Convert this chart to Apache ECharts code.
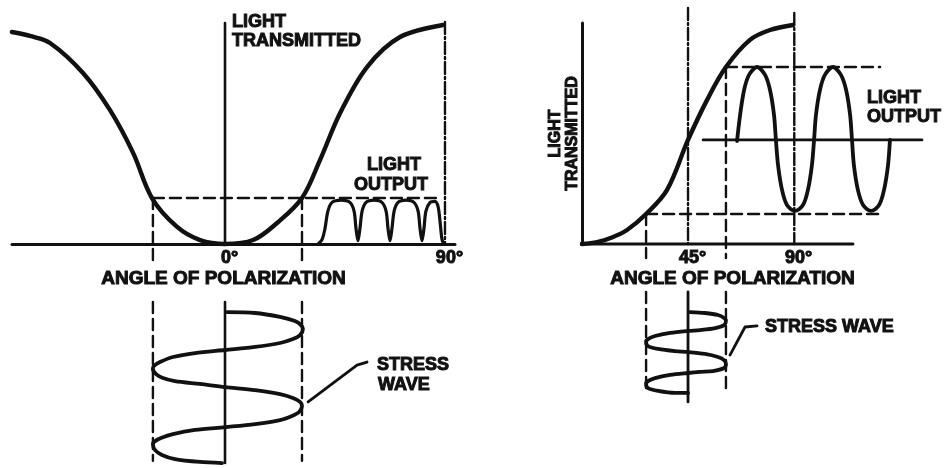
<!DOCTYPE html>
<html><head><meta charset="utf-8">
<script src="https://cdn.jsdelivr.net/npm/echarts@6/dist/echarts.min.js"></script>
<style>html,body{margin:0;padding:0;background:#fff}#c{width:945px;height:468px}</style>
</head><body><div id="c"></div>
<script>
// ---------- DATA (x: angle of polarization in degrees, y: light transmitted, 0..1) ----------
const leftAngleTicks = [0, 90];
const rightAngleTicks = [45, 90];
const axisTitle = 'ANGLE OF POLARIZATION';
const yTitle = 'LIGHT\nTRANSMITTED';

// left panel: transmission curve with the working point at 0 deg
const leftCurve = [[-87.2,0.968],[-79.8,0.950],[-71.6,0.918],[-58.1,0.781],[-47.1,0.612],[-37.6,0.416],[-29.9,0.210],[-19.6,0.078],[-10.2,0.018],[0,0],[11.5,0.018],[21.3,0.096],[31.5,0.210],[38.9,0.384],[47.1,0.598],[58.1,0.808],[71.6,0.945],[89.2,1.0]];
const leftOutput = [[38.1,0],[39.7,0.02],[40.9,0.07],[42.1,0.15],[43.8,0.19],[47.5,0.2],[51.1,0.19],[52.8,0.15],[53.6,0.07],[54.4,0.015],[55.2,0.07],[56.1,0.15],[57.7,0.19],[61.0,0.2],[64.2,0.19],[65.9,0.15],[66.7,0.07],[67.5,0.015],[68.3,0.07],[69.2,0.15],[70.8,0.19],[74.1,0.2],[77.3,0.19],[79.0,0.15],[79.8,0.07],[80.6,0.015],[81.4,0.07],[82.2,0.15],[83.9,0.19],[85.9,0.195],[87.2,0.17],[88.0,0.1],[88.8,0.02],[89.6,0]];
const leftStress = [[0.8,-0.311],[12.3,-0.315],[22.5,-0.333],[28.6,-0.352],[31.1,-0.370],[31.9,-0.388],[30.7,-0.416],[27.8,-0.434],[22.5,-0.452],[12.3,-0.470],[0,-0.484],[-12.3,-0.498],[-21.3,-0.516],[-26.6,-0.539],[-29.1,-0.557],[-29.5,-0.571],[-28.2,-0.594],[-25.4,-0.612],[-20.5,-0.626],[-10.2,-0.639],[0,-0.653],[12.3,-0.667],[22.5,-0.685],[27.8,-0.703],[30.7,-0.721],[31.5,-0.740],[30.3,-0.767],[27.4,-0.785],[22.5,-0.804],[12.3,-0.822],[0,-0.836],[-12.3,-0.849],[-21.3,-0.868],[-26.2,-0.886],[-28.6,-0.900],[-29.5,-0.913],[-28.6,-0.941],[-25.8,-0.963],[-20.5,-0.982],[-10.2,-0.995],[-1.2,-1.0]];
const leftLeader = [[34.0,-0.721],[54.0,-0.553],[58.1,-0.539]];
const leftSolid = [[[0,1.009],[0,0]],[[0,-0.265],[0,-1.0]]];
const leftDashed = [[[-29.5,0.21],[-29.5,-0.096]],[[-29.5,-0.265],[-29.5,-0.99]],[[31.5,0.21],[31.5,-0.096]],[[31.5,-0.265],[31.5,-0.99]],[[-29.5,0.21],[88.0,0.21]]];
const leftDashDot = [[[90.0,1.014],[90.0,0]]];

// right panel: working point at 45 deg
const rightBaseline = [[-0.8,0],[115.0,0]];
const rightCurve = [[0,0],[6.4,0.009],[12.7,0.030],[19.1,0.064],[27.2,0.137],[36.1,0.247],[45.0,0.475],[53.1,0.658],[61.1,0.808],[71.3,0.932],[79.8,0.977],[89.6,1.0]];
const rightOutput = [[65.8,0.470],[67.1,0.589],[68.8,0.703],[70.9,0.772],[74.3,0.808],[77.7,0.772],[79.8,0.703],[81.5,0.589],[82.3,0.475],[83.2,0.361],[84.9,0.247],[87.0,0.178],[90.4,0.151],[93.8,0.178],[95.9,0.247],[97.6,0.361],[98.5,0.475],[99.3,0.589],[101.0,0.703],[103.1,0.772],[106.5,0.808],[109.9,0.772],[112.1,0.703],[113.8,0.589],[114.6,0.475],[115.4,0.361],[117.1,0.247],[119.3,0.178],[122.7,0.151],[126.1,0.178],[128.2,0.247],[129.9,0.361],[130.7,0.475]];
const rightStress = [[45.8,-0.311],[52.2,-0.315],[57.7,-0.324],[60.3,-0.338],[61.1,-0.352],[60.3,-0.370],[56.5,-0.384],[50.1,-0.393],[45.0,-0.397],[37.4,-0.406],[31.0,-0.420],[28.0,-0.434],[27.2,-0.447],[28.0,-0.466],[32.3,-0.479],[39.5,-0.489],[45.0,-0.493],[52.2,-0.502],[57.7,-0.516],[60.3,-0.530],[61.1,-0.548],[60.3,-0.566],[55.6,-0.580],[50.1,-0.584],[45.0,-0.589],[37.4,-0.598],[31.0,-0.612],[28.0,-0.626],[27.2,-0.639],[28.0,-0.658],[32.3,-0.671],[39.5,-0.680],[45.0,-0.680]];
const rightLeader = [[62.8,-0.507],[69.2,-0.379],[74.3,-0.374]];
const rightSolid = [[[45.0,-0.219],[45.0,-0.721]],[[51.4,0.475],[144.3,0.475]]];
const rightDashed = [[[27.2,0.137],[27.2,-0.064]],[[27.2,-0.219],[27.2,-0.667]],[[61.1,0.808],[61.1,-0.064]],[[61.1,-0.219],[61.1,-0.680]],[[61.1,0.808],[126.5,0.808]],[[27.2,0.137],[126.5,0.137]]];
const rightDashDot = [[[45.0,1.078],[45.0,0]],[[90.1,1.055],[90.1,0]]];

// ---------- CHART ----------
const INK = '#111';
const FAM = '"Liberation Sans", Arial, sans-serif';
const txt = {color: INK, fontFamily: FAM, fontWeight: 'bold', fontSize: 18, textBorderColor: INK, textBorderWidth: 1};

function line(data, gi, width, type, smooth) {
  return {type: 'line', xAxisIndex: gi, yAxisIndex: gi, data: data, symbol: 'none', clip: false,
    silent: true, smooth: smooth || false, z: 3,
    lineStyle: {color: INK, width: width, type: type || 'solid', cap: 'round', join: 'round'}};
}
const series = [];
series.push(line(leftCurve, 0, 4.4, 'solid', 0.35));
series.push(line(leftOutput, 0, 3.2, 'solid', 0.3));
series.push(line(leftStress, 0, 3.8, 'solid', 0.3));
series.push(line(leftLeader, 0, 2.8));
leftSolid.forEach(s => series.push(line(s, 0, 2.6)));
leftDashed.forEach(s => series.push(line(s, 0, 2.4, [11, 6])));
leftDashDot.forEach(s => series.push(line(s, 0, 2.4, [12, 3, 2, 3])));
series.push(line(rightBaseline, 1, 3));
series.push(line(rightCurve, 1, 4.4, 'solid', 0.35));
series.push(line(rightOutput, 1, 3.8, 'solid', 0.3));
series.push(line(rightStress, 1, 3.8, 'solid', 0.3));
series.push(line(rightLeader, 1, 2.8));
rightSolid.forEach(s => series.push(line(s, 1, 2.8)));
rightDashed.forEach(s => series.push(line(s, 1, 2.4, [11, 6])));
rightDashDot.forEach(s => series.push(line(s, 1, 2.4, [12, 3, 2, 3])));

function xAxis(gi, min, max, ticks, pad, showLine) {
  return {type: 'value', gridIndex: gi, min: min, max: max,
    axisLine: {show: showLine, onZero: false, lineStyle: {color: INK, width: 3}},
    axisTick: {show: false}, splitLine: {show: false},
    axisLabel: Object.assign({customValues: ticks, formatter: v => v + '°', margin: 5, padding: [0, 0, 0, 9]}, txt),
    name: axisTitle, nameLocation: 'middle', nameGap: 25,
    nameTextStyle: Object.assign({padding: pad}, txt, {fontSize: 19})};
}

const option = {
  animation: false,
  backgroundColor: '#fff',
  grid: [
    {left: 12, top: 23, width: 443, height: 221},
    {left: 582, top: 23, width: 342, height: 221}
  ],
  xAxis: [xAxis(0, -87.15, 94.1, leftAngleTicks, [0, 20, 0, 0], true),
          xAxis(1, 0, 145.16, rightAngleTicks, [0, 41, 0, 0], false)],
  yAxis: [
    {type: 'value', gridIndex: 0, min: 0, max: 1.009, show: false},
    {type: 'value', gridIndex: 1, min: 0, max: 1.009,
      axisLine: {show: true, onZero: false, lineStyle: {color: INK, width: 3}},
      axisTick: {show: false}, axisLabel: {show: false}, splitLine: {show: false},
      name: yTitle, nameLocation: 'middle', nameRotate: 90, nameGap: 1,
      nameTextStyle: Object.assign({lineHeight: 17, align: 'center'}, txt, {fontSize: 16})}
  ],
  series: series,
  graphic: [
    ['LIGHT', 232, 22, 'left'], ['TRANSMITTED', 232, 41, 'left'],
    ['LIGHT', 394, 165, 'center'], ['OUTPUT', 391, 185, 'center'],
    ['STRESS', 377, 365, 'left'], ['WAVE', 378, 385, 'left'],
    ['LIGHT', 867, 98, 'left'], ['OUTPUT', 867, 117, 'left'],
    ['STRESS WAVE', 765, 327, 'left']
  ].map(t => ({type: 'text', x: t[1], y: t[2], silent: true, z: 10,
    style: {text: t[0], fill: INK, stroke: INK, lineWidth: 1,
      font: 'bold 18px ' + FAM, align: t[3], verticalAlign: 'middle',
      textAlign: t[3], textVerticalAlign: 'middle'}}))
};
const chart = echarts.init(document.getElementById('c'), null, {renderer: 'canvas'});
chart.setOption(option);
</script></body></html>
